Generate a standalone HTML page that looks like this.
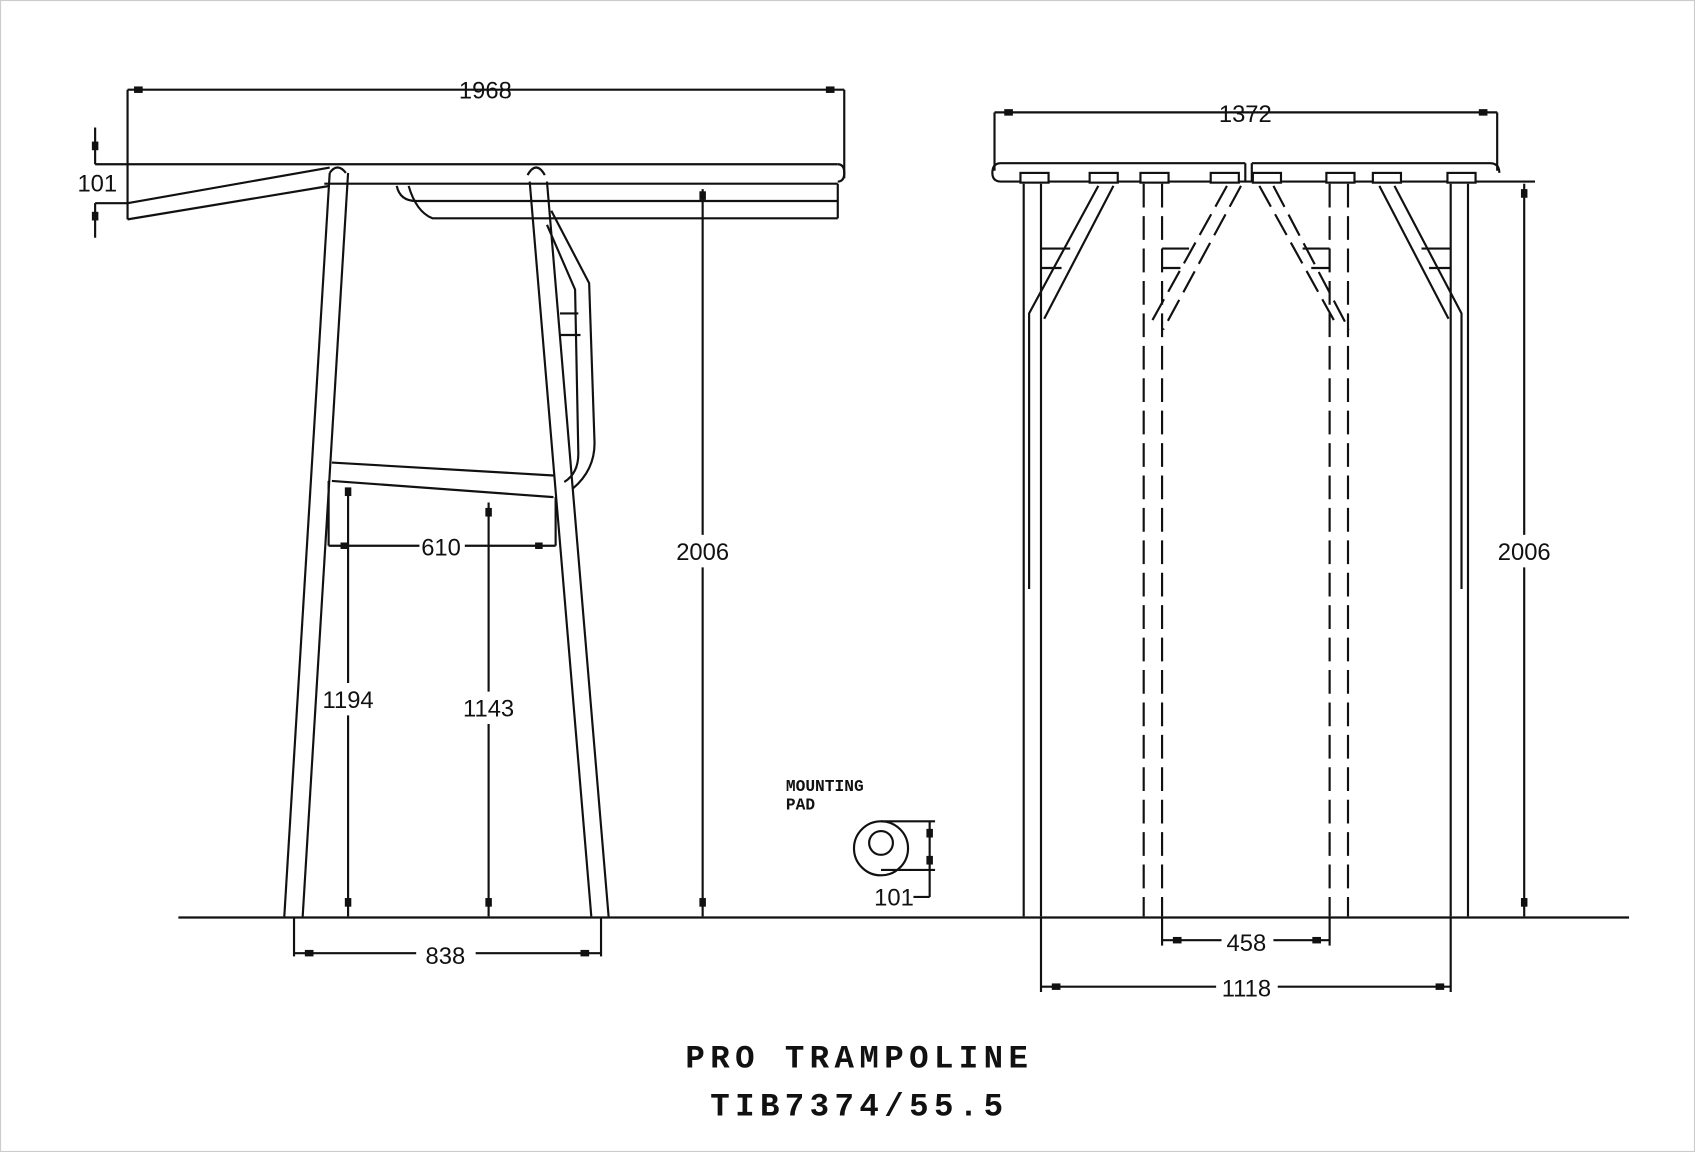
<!DOCTYPE html>
<html><head><meta charset="utf-8"><style>
html,body{margin:0;padding:0;background:#fff;}
svg{display:block;}
text{font-family:"Liberation Sans",sans-serif;fill:#111;}
</style></head><body>
<svg width="1695" height="1152" viewBox="0 0 1568 1066" preserveAspectRatio="none" xmlns="http://www.w3.org/2000/svg">
<rect x="0.5" y="0.5" width="1567" height="1065" fill="#fff" stroke="#ccc"/>
<g stroke="#111" stroke-width="2" fill="none">
<line x1="118" y1="83" x2="781" y2="83"/>
<line x1="118" y1="83" x2="118" y2="203"/>
<line x1="781" y1="83" x2="781" y2="165"/>
<line x1="88" y1="152" x2="775" y2="152"/>
<path d="M775 152 Q781 152 781 160 Q781 168 775 168"/>
<line x1="300" y1="170" x2="775" y2="170"/>
<path d="M367 172 Q370 186 385 186 L775 186"/>
<path d="M378 172 Q385 196 400 202 L775 202"/>
<line x1="775" y1="170" x2="775" y2="202"/>
<line x1="88" y1="188" x2="118" y2="188"/>
<line x1="118" y1="188" x2="305" y2="155"/>
<line x1="118" y1="203" x2="305" y2="172"/>
<line x1="88" y1="118" x2="88" y2="152"/>
<line x1="88" y1="188" x2="88" y2="220"/>
<path d="M305 160 Q312 150 320 160"/>
<line x1="305" y1="160" x2="263" y2="848"/>
<line x1="322" y1="160" x2="280" y2="848"/>
<path d="M488 162 Q496 148 504 162"/>
<line x1="490" y1="168" x2="547" y2="848"/>
<line x1="506" y1="168" x2="563" y2="848"/>
<path d="M510 195 L545 262 L550 410 Q550 435 530 452"/>
<path d="M506 208 L532 268 L535 420 Q535 438 522 446"/>
<line x1="518" y1="290" x2="535" y2="290"/>
<line x1="518" y1="310" x2="537" y2="310"/>
<line x1="307" y1="428" x2="512" y2="440"/>
<line x1="307" y1="445" x2="512" y2="460"/>
<line x1="304" y1="445" x2="304" y2="505"/>
<line x1="514" y1="460" x2="514" y2="505"/>
<line x1="304" y1="505" x2="388" y2="505"/>
<line x1="430" y1="505" x2="514" y2="505"/>
<line x1="322" y1="455" x2="322" y2="632"/>
<line x1="322" y1="662" x2="322" y2="848"/>
<line x1="452" y1="465" x2="452" y2="640"/>
<line x1="452" y1="670" x2="452" y2="848"/>
<line x1="650" y1="175" x2="650" y2="495"/>
<line x1="650" y1="525" x2="650" y2="848"/>
<line x1="165" y1="849" x2="1507" y2="849"/>
<line x1="272" y1="849" x2="272" y2="885"/>
<line x1="556" y1="849" x2="556" y2="885"/>
<line x1="272" y1="882" x2="385" y2="882"/>
<line x1="440" y1="882" x2="556" y2="882"/>
<circle cx="815" cy="785" r="25"/>
<circle cx="815" cy="780" r="11"/>
<line x1="815" y1="760" x2="865" y2="760"/>
<line x1="815" y1="805" x2="865" y2="805"/>
<line x1="860" y1="760" x2="860" y2="830"/>
<line x1="845" y1="830" x2="860" y2="830"/>
<line x1="920" y1="104" x2="1385" y2="104"/>
<line x1="920" y1="104" x2="920" y2="158"/>
<line x1="1385" y1="104" x2="1385" y2="158"/>
<path d="M1152 151 L926 151 Q918 151 918 160 Q918 168 926 168 L1420 168"/>
<path d="M1158 151 L1378 151 Q1387 151 1387 160"/>
<line x1="1152" y1="151" x2="1152" y2="168"/>
<line x1="1158" y1="151" x2="1158" y2="168"/>
<line x1="947" y1="170" x2="947" y2="848"/>
<line x1="963" y1="170" x2="963" y2="848"/>
<line x1="1342" y1="170" x2="1342" y2="848"/>
<line x1="1358" y1="170" x2="1358" y2="848"/>
<path d="M1016 172 L952 290 L952 545"/>
<path d="M1030 172 L966 295"/>
<path d="M1290 172 L1352 290 L1352 545"/>
<path d="M1276 172 L1340 295"/>
<line x1="963" y1="230" x2="990" y2="230"/><line x1="963" y1="248" x2="982" y2="248"/>
<line x1="1315" y1="230" x2="1342" y2="230"/><line x1="1322" y1="248" x2="1342" y2="248"/>
<line x1="1075" y1="230" x2="1100" y2="230"/><line x1="1075" y1="248" x2="1092" y2="248"/>
<line x1="1205" y1="230" x2="1230" y2="230"/><line x1="1213" y1="248" x2="1230" y2="248"/>
</g>
<g stroke="#111" stroke-width="2" fill="none" stroke-dasharray="22,8">
<line x1="1058" y1="170" x2="1058" y2="848"/>
<line x1="1075" y1="170" x2="1075" y2="848"/>
<line x1="1230" y1="170" x2="1230" y2="848"/>
<line x1="1247" y1="170" x2="1247" y2="848"/>
<path d="M1135 172 L1064 300"/>
<path d="M1148 172 L1076 305"/>
<path d="M1165 172 L1236 300"/>
<path d="M1178 172 L1248 305"/>
</g>
<g stroke="#111" stroke-width="2" fill="none">
<line x1="1410" y1="170" x2="1410" y2="495"/>
<line x1="1410" y1="525" x2="1410" y2="848"/>
<line x1="1075" y1="849" x2="1075" y2="875"/>
<line x1="1230" y1="849" x2="1230" y2="875"/>
<line x1="1075" y1="870" x2="1130" y2="870"/>
<line x1="1178" y1="870" x2="1230" y2="870"/>
<line x1="963" y1="849" x2="963" y2="918"/>
<line x1="1342" y1="849" x2="1342" y2="918"/>
<line x1="963" y1="913" x2="1125" y2="913"/>
<line x1="1182" y1="913" x2="1342" y2="913"/>
</g>
<g fill="#fff" stroke="#111" stroke-width="2">
<rect x="944" y="160" width="26" height="9"/><rect x="1008" y="160" width="26" height="9"/>
<rect x="1055" y="160" width="26" height="9"/><rect x="1120" y="160" width="26" height="9"/>
<rect x="1159" y="160" width="26" height="9"/><rect x="1227" y="160" width="26" height="9"/>
<rect x="1270" y="160" width="26" height="9"/><rect x="1339" y="160" width="26" height="9"/>
</g>
<g fill="#111">
<rect x="124" y="80" width="8" height="6"/><rect x="764" y="80" width="8" height="6"/>
<rect x="85" y="131" width="6" height="8"/><rect x="85" y="196" width="6" height="8"/>
<rect x="315" y="502" width="7" height="6"/><rect x="495" y="502" width="7" height="6"/>
<rect x="319" y="451" width="6" height="8"/><rect x="319" y="831" width="6" height="8"/>
<rect x="449" y="470" width="6" height="8"/><rect x="449" y="831" width="6" height="8"/>
<rect x="647" y="177" width="6" height="8"/><rect x="647" y="831" width="6" height="8"/>
<rect x="282" y="879" width="8" height="6"/><rect x="537" y="879" width="8" height="6"/>
<rect x="929" y="101" width="8" height="6"/><rect x="1368" y="101" width="8" height="6"/>
<rect x="1407" y="175" width="6" height="8"/><rect x="1407" y="831" width="6" height="8"/>
<rect x="1085" y="867" width="8" height="6"/><rect x="1214" y="867" width="8" height="6"/>
<rect x="973" y="910" width="8" height="6"/><rect x="1328" y="910" width="8" height="6"/>
<rect x="857" y="767" width="6" height="8"/><rect x="857" y="792" width="6" height="8"/>
</g>
<g font-size="22" text-anchor="middle">
<text x="449" y="91">1968</text>
<text x="90" y="177">101</text>
<text x="408" y="514">610</text>
<text x="322" y="655">1194</text>
<text x="452" y="663">1143</text>
<text x="650" y="518">2006</text>
<text x="412" y="892">838</text>
<text x="827" y="838">101</text>
<text x="1152" y="113">1372</text>
<text x="1410" y="518">2006</text>
<text x="1153" y="880">458</text>
<text x="1153" y="922">1118</text>
</g>
<text x="727" y="732" font-size="15" font-weight="bold" style="font-family:'Liberation Mono',monospace">MOUNTING</text>
<text x="727" y="749" font-size="15" font-weight="bold" style="font-family:'Liberation Mono',monospace">PAD</text>
<text x="795" y="988" font-size="30" font-weight="bold" text-anchor="middle" letter-spacing="5" style="font-family:'Liberation Mono',monospace">PRO TRAMPOLINE</text>
<text x="795" y="1032" font-size="30" font-weight="bold" text-anchor="middle" letter-spacing="5" style="font-family:'Liberation Mono',monospace">TIB7374/55.5</text>
</svg>
</body></html>
